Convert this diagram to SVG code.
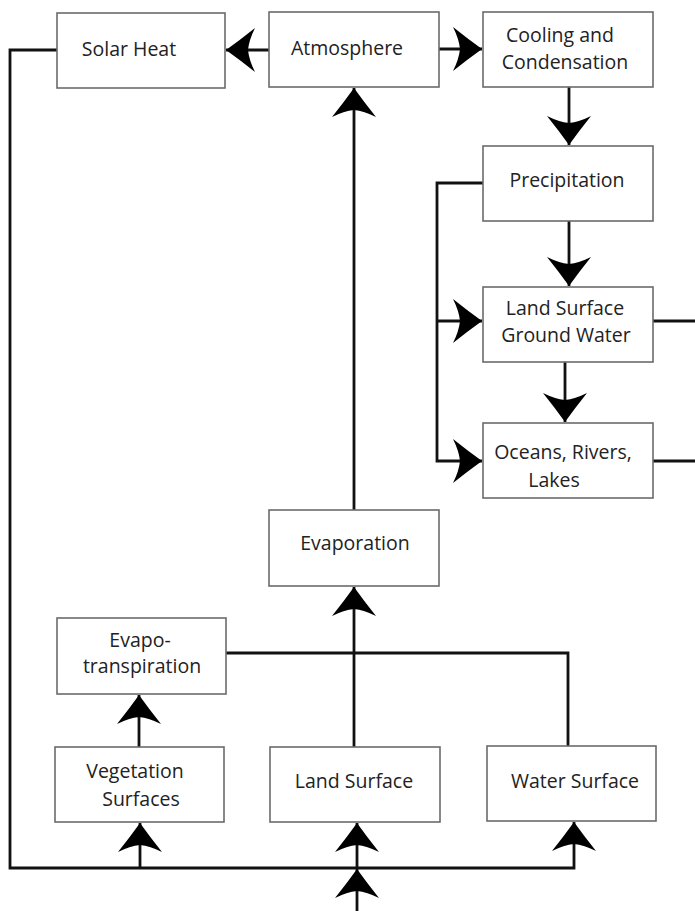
<svg xmlns="http://www.w3.org/2000/svg" width="695" height="911" viewBox="0 0 695 911">
  <style>
    .box { fill: #ffffff; stroke: #6b6b6b; stroke-width: 1.6; }
    .lbl { font-family: "Open Sans", "Noto Sans", "DejaVu Sans", sans-serif; font-size: 19.5px; fill: #222222; text-anchor: middle; }
    .ln { fill: none; stroke: #111111; stroke-width: 2.8; }
    .arr { marker-end: url(#ah); }
  </style>
  <defs>
    <marker id="ah" viewBox="-31 -24 33 48" refX="0" refY="0" markerWidth="33" markerHeight="48" markerUnits="userSpaceOnUse" orient="auto">
      <path d="M0,0 Q-14,-10 -29,-22 Q-23,-10 -22,0 Q-23,10 -29,22 Q-14,10 0,0 Z" fill="#000000"/>
    </marker>
  </defs>
  <rect width="695" height="911" fill="#ffffff"/>

  <!-- connectors -->
  <g id="connectors">
    <path class="ln arr" d="M269,50 H226"/>
    <path class="ln arr" d="M439,49 H482"/>
    <path class="ln arr" d="M569,87 V145"/>
    <path class="ln arr" d="M569,221 V286"/>
    <path class="ln arr" d="M565,362 V422"/>
    <path class="ln arr" d="M483,183 H437 V461 H482"/>
    <path class="ln arr" d="M437,321 H482"/>
    <path class="ln" d="M653,321 H695"/>
    <path class="ln" d="M653,461 H695"/>
    <path class="ln arr" d="M354,510 V88"/>
    <path class="ln arr" d="M354,747 V587"/>
    <path class="ln" d="M226,653 H568 V746"/>
    <path class="ln arr" d="M139,747 V695"/>
    <path class="ln arr" d="M57,50 H10 V868 H574 V822"/>
    <path class="ln arr" d="M140,868 V823"/>
    <path class="ln arr" d="M357,868 V823"/>
    <path class="ln arr" d="M357,911 V869"/>
  </g>

  <!-- nodes -->
  <g id="solar-heat">
    <rect class="box" x="57" y="13" width="168" height="75"/>
    <text class="lbl" x="129" y="56">Solar Heat</text>
  </g>
  <g id="atmosphere">
    <rect class="box" x="269" y="12" width="170" height="75"/>
    <text class="lbl" x="347" y="55">Atmosphere</text>
  </g>
  <g id="cooling">
    <rect class="box" x="483" y="12" width="170" height="75"/>
    <text class="lbl" x="560" y="42">Cooling and</text>
    <text class="lbl" x="565" y="69">Condensation</text>
  </g>
  <g id="precipitation">
    <rect class="box" x="483" y="146" width="170" height="75"/>
    <text class="lbl" x="567" y="187">Precipitation</text>
  </g>
  <g id="ground-water">
    <rect class="box" x="483" y="287" width="170" height="75"/>
    <text class="lbl" x="565" y="315">Land Surface</text>
    <text class="lbl" x="566" y="342">Ground Water</text>
  </g>
  <g id="oceans">
    <rect class="box" x="483" y="423" width="170" height="75"/>
    <text class="lbl" x="563" y="459">Oceans, Rivers,</text>
    <text class="lbl" x="554" y="487">Lakes</text>
  </g>
  <g id="evaporation">
    <rect class="box" x="269" y="510" width="170" height="76"/>
    <text class="lbl" x="355" y="550">Evaporation</text>
  </g>
  <g id="evapotranspiration">
    <rect class="box" x="57" y="618" width="169" height="76"/>
    <text class="lbl" x="140" y="647">Evapo-</text>
    <text class="lbl" x="142" y="673">transpiration</text>
  </g>
  <g id="vegetation">
    <rect class="box" x="55" y="747" width="169" height="75"/>
    <text class="lbl" x="135" y="778">Vegetation</text>
    <text class="lbl" x="141" y="806">Surfaces</text>
  </g>
  <g id="land-surface">
    <rect class="box" x="270" y="747" width="170" height="75"/>
    <text class="lbl" x="354" y="788">Land Surface</text>
  </g>
  <g id="water-surface">
    <rect class="box" x="487" y="746" width="169" height="75"/>
    <text class="lbl" x="575" y="788">Water Surface</text>
  </g>
</svg>
